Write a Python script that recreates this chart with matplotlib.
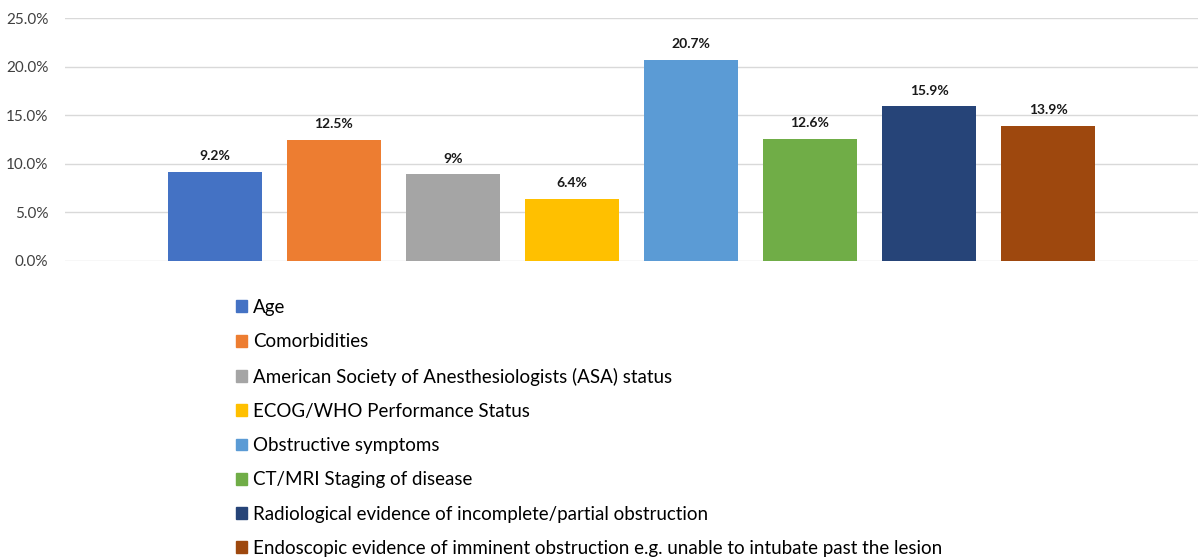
import matplotlib.pyplot as plt
from matplotlib.patches import Patch
import numpy as np

plt.rcParams['font.family'] = ['Lato', 'DejaVu Sans']

categories = ["Age", "Comorbidities",
              "American Society of Anesthesiologists (ASA) status",
              "ECOG/WHO Performance Status", "Obstructive symptoms",
              "CT/MRI Staging of disease",
              "Radiological evidence of incomplete/partial obstruction",
              "Endoscopic evidence of imminent obstruction e.g. unable to intubate past the lesion"]
values = [9.2, 12.5, 8.9, 6.4, 20.7, 12.6, 15.9, 13.9]
value_labels = ["9.2%", "12.5%", "9%", "6.4%", "20.7%", "12.6%", "15.9%", "13.9%"]
colors = ["#4472c4", "#ed7d31", "#a5a5a5", "#ffc000", "#5b9bd5", "#70ad47", "#264478", "#9e480e"]
yticks = [0, 5, 10, 15, 20, 25]

fig = plt.figure(figsize=(12, 5.58), dpi=100)
ax = fig.add_axes([65 / 1200, 1 - 261 / 558, 1133 / 1200, 243 / 558])

x = np.arange(len(values))
ax.bar(x, values, width=0.79, color=colors, zorder=3)
for xi, v, lab in zip(x, values, value_labels):
    ax.annotate(lab, (xi, v), xytext=(0, 7), textcoords="offset points",
                ha="center", va="bottom", fontsize=10, fontweight="bold", color="#1a1a1a")

ax.set_xlim(-1.26, 8.26)
ax.set_ylim(0, 25)
ax.set_yticks(yticks)
ax.set_yticklabels([f"{t:.1f}%" for t in yticks], fontsize=11, color="#404040")
ax.set_xticks([])
ax.grid(axis="y", color="#d9d9d9", linewidth=1, zorder=0)
ax.tick_params(axis="y", length=0, pad=12)
for s in ax.spines.values():
    s.set_visible(False)

handles = [Patch(color=c) for c in colors]
fig.legend(handles, categories, loc="upper left", bbox_to_anchor=(236 / 1200, 1 - 299 / 558),
           frameon=False, fontsize=13.5, labelspacing=0.92, handlelength=0.6, handleheight=0.6,
           handletextpad=0.3, borderaxespad=0, borderpad=0)

fig.savefig("out.png", dpi=100)
